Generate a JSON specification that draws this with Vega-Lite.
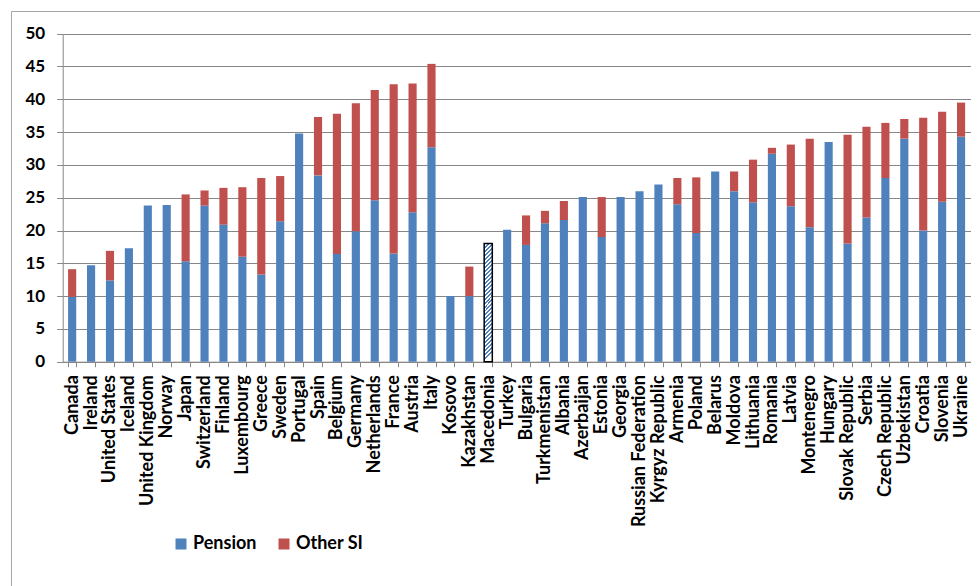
{
  "$schema": "https://vega.github.io/schema/vega-lite/v6.json",
  "width": 969,
  "height": 575,
  "autosize": "none",
  "padding": {"left": 11, "top": 11, "right": 0, "bottom": 0},
  "background": "white",
  "config": {
    "view": {"stroke": "#a6a6a6", "strokeWidth": 1},
    "font": "Lato"
  },
  "data": {
    "values": [
      {"country": "Canada", "series": "Pension", "value": 9.9},
      {"country": "Canada", "series": "Other SI", "value": 4.2},
      {"country": "Ireland", "series": "Pension", "value": 14.7},
      {"country": "United States", "series": "Pension", "value": 12.4},
      {"country": "United States", "series": "Other SI", "value": 4.5},
      {"country": "Iceland", "series": "Pension", "value": 17.3},
      {"country": "United Kingdom", "series": "Pension", "value": 23.8},
      {"country": "Norway", "series": "Pension", "value": 23.9},
      {"country": "Japan", "series": "Pension", "value": 15.3},
      {"country": "Japan", "series": "Other SI", "value": 10.2},
      {"country": "Switzerland", "series": "Pension", "value": 23.8},
      {"country": "Switzerland", "series": "Other SI", "value": 2.3},
      {"country": "Finland", "series": "Pension", "value": 20.9},
      {"country": "Finland", "series": "Other SI", "value": 5.6},
      {"country": "Luxembourg", "series": "Pension", "value": 16.0},
      {"country": "Luxembourg", "series": "Other SI", "value": 10.6},
      {"country": "Greece", "series": "Pension", "value": 13.3},
      {"country": "Greece", "series": "Other SI", "value": 14.7},
      {"country": "Sweden", "series": "Pension", "value": 21.4},
      {"country": "Sweden", "series": "Other SI", "value": 6.9},
      {"country": "Portugal", "series": "Pension", "value": 34.8},
      {"country": "Spain", "series": "Pension", "value": 28.4},
      {"country": "Spain", "series": "Other SI", "value": 8.9},
      {"country": "Belgium", "series": "Pension", "value": 16.4},
      {"country": "Belgium", "series": "Other SI", "value": 21.4},
      {"country": "Germany", "series": "Pension", "value": 19.9},
      {"country": "Germany", "series": "Other SI", "value": 19.5},
      {"country": "Netherlands", "series": "Pension", "value": 24.6},
      {"country": "Netherlands", "series": "Other SI", "value": 16.8},
      {"country": "France", "series": "Pension", "value": 16.5},
      {"country": "France", "series": "Other SI", "value": 25.8},
      {"country": "Austria", "series": "Pension", "value": 22.8},
      {"country": "Austria", "series": "Other SI", "value": 19.6},
      {"country": "Italy", "series": "Pension", "value": 32.7},
      {"country": "Italy", "series": "Other SI", "value": 12.7},
      {"country": "Kosovo", "series": "Pension", "value": 10.0},
      {"country": "Kazakhstan", "series": "Pension", "value": 10.0},
      {"country": "Kazakhstan", "series": "Other SI", "value": 4.5},
      {"country": "Macedonia", "series": "Pension", "value": 18.0},
      {"country": "Turkey", "series": "Pension", "value": 20.1},
      {"country": "Bulgaria", "series": "Pension", "value": 17.8},
      {"country": "Bulgaria", "series": "Other SI", "value": 4.5},
      {"country": "Turkmenistan", "series": "Pension", "value": 21.1},
      {"country": "Turkmenistan", "series": "Other SI", "value": 1.9},
      {"country": "Albania", "series": "Pension", "value": 21.6},
      {"country": "Albania", "series": "Other SI", "value": 2.9},
      {"country": "Azerbaijan", "series": "Pension", "value": 25.1},
      {"country": "Estonia", "series": "Pension", "value": 19.0},
      {"country": "Estonia", "series": "Other SI", "value": 6.1},
      {"country": "Georgia", "series": "Pension", "value": 25.1},
      {"country": "Russian Federation", "series": "Pension", "value": 26.0},
      {"country": "Kyrgyz Republic", "series": "Pension", "value": 27.0},
      {"country": "Armenia", "series": "Pension", "value": 24.0},
      {"country": "Armenia", "series": "Other SI", "value": 4.0},
      {"country": "Poland", "series": "Pension", "value": 19.6},
      {"country": "Poland", "series": "Other SI", "value": 8.5},
      {"country": "Belarus", "series": "Pension", "value": 29.0},
      {"country": "Moldova", "series": "Pension", "value": 26.0},
      {"country": "Moldova", "series": "Other SI", "value": 3.0},
      {"country": "Lithuania", "series": "Pension", "value": 24.3},
      {"country": "Lithuania", "series": "Other SI", "value": 6.5},
      {"country": "Romania", "series": "Pension", "value": 31.7},
      {"country": "Romania", "series": "Other SI", "value": 0.9},
      {"country": "Latvia", "series": "Pension", "value": 23.7},
      {"country": "Latvia", "series": "Other SI", "value": 9.4},
      {"country": "Montenegro", "series": "Pension", "value": 20.5},
      {"country": "Montenegro", "series": "Other SI", "value": 13.5},
      {"country": "Hungary", "series": "Pension", "value": 33.5},
      {"country": "Slovak Republic", "series": "Pension", "value": 18.0},
      {"country": "Slovak Republic", "series": "Other SI", "value": 16.6},
      {"country": "Serbia", "series": "Pension", "value": 22.0},
      {"country": "Serbia", "series": "Other SI", "value": 13.8},
      {"country": "Czech Republic", "series": "Pension", "value": 28.0},
      {"country": "Czech Republic", "series": "Other SI", "value": 8.4},
      {"country": "Uzbekistan", "series": "Pension", "value": 34.0},
      {"country": "Uzbekistan", "series": "Other SI", "value": 3.0},
      {"country": "Croatia", "series": "Pension", "value": 20.0},
      {"country": "Croatia", "series": "Other SI", "value": 17.2},
      {"country": "Slovenia", "series": "Pension", "value": 24.4},
      {"country": "Slovenia", "series": "Other SI", "value": 13.7},
      {"country": "Ukraine", "series": "Pension", "value": 34.3},
      {"country": "Ukraine", "series": "Other SI", "value": 5.2}
    ]
  },
  "encoding": {
    "x": {
      "field": "country",
      "type": "nominal",
      "sort": null,
      "scale": {"range": [51.7, 959.5], "paddingInner": 0.57, "paddingOuter": 0.285},
      "axis": {
        "title": null,
        "labelAngle": 270,
        "labelAlign": "right",
        "labelBaseline": "middle",
        "offset": -224.3,
        "tickBand": "extent",
        "tickSize": 5,
        "tickColor": "#878787",
        "domainColor": "#878787",
        "labelPadding": 8,
        "labelFont": "Lato",
        "labelFontWeight": "bold",
        "labelFontSize": 18,
        "labelColor": "black",
        "labelOverlap": false,
        "labelLimit": 300
      }
    },
    "y": {
      "field": "value",
      "type": "quantitative",
      "stack": "zero",
      "scale": {"domain": [0, 50], "range": [350.7, 22.7], "nice": false},
      "axis": {
        "title": null,
        "offset": -51.7,
        "values": [0, 5, 10, 15, 20, 25, 30, 35, 40, 45, 50],
        "grid": true,
        "gridColor": "#878787",
        "gridWidth": 1,
        "domainColor": "#878787",
        "tickColor": "#878787",
        "tickSize": 6,
        "labelPadding": 12,
        "labelFont": "Lato",
        "labelFontWeight": "bold",
        "labelFontSize": 17,
        "labelColor": "black",
        "labelOverlap": false,
        "labelFlush": false
      }
    }
  },
  "layer": [
    {
      "mark": {"type": "bar"},
      "encoding": {
        "color": {
          "field": "series",
          "type": "nominal",
          "scale": {"domain": ["Pension", "Other SI"], "range": ["#4f81bd", "#c0504d"]},
          "legend": {
            "orient": "none",
            "legendX": 161,
            "legendY": 524,
            "direction": "horizontal",
            "title": null,
            "symbolType": "square",
            "symbolSize": 121,
            "symbolStrokeWidth": 0,
            "symbolOpacity": 1,
            "labelFont": "Lato",
            "labelFontSize": 18,
            "labelFontWeight": "bold",
            "labelColor": "black",
            "labelOffset": 3,
            "columnPadding": 18
          }
        },
        "order": {"field": "series", "sort": "descending"}
      }
    },
    {
      "transform": [{"filter": "datum.country === 'Macedonia'"}],
      "mark": {
        "type": "bar",
        "stroke": "black",
        "strokeWidth": 1.5,
        "fill": {
          "gradient": "linear",
          "x1": 0, "y1": 0, "x2": 0.07, "y2": 1,
          "stops": [
            {"offset": 0, "color": "#4f81bd"}, {"offset": 0.0167, "color": "#4f81bd"},
            {"offset": 0.0167, "color": "#ffffff"}, {"offset": 0.0333, "color": "#ffffff"},
            {"offset": 0.0333, "color": "#4f81bd"}, {"offset": 0.05, "color": "#4f81bd"},
            {"offset": 0.05, "color": "#ffffff"}, {"offset": 0.0667, "color": "#ffffff"},
            {"offset": 0.0667, "color": "#4f81bd"}, {"offset": 0.0833, "color": "#4f81bd"},
            {"offset": 0.0833, "color": "#ffffff"}, {"offset": 0.1, "color": "#ffffff"},
            {"offset": 0.1, "color": "#4f81bd"}, {"offset": 0.1167, "color": "#4f81bd"},
            {"offset": 0.1167, "color": "#ffffff"}, {"offset": 0.1333, "color": "#ffffff"},
            {"offset": 0.1333, "color": "#4f81bd"}, {"offset": 0.15, "color": "#4f81bd"},
            {"offset": 0.15, "color": "#ffffff"}, {"offset": 0.1667, "color": "#ffffff"},
            {"offset": 0.1667, "color": "#4f81bd"}, {"offset": 0.1833, "color": "#4f81bd"},
            {"offset": 0.1833, "color": "#ffffff"}, {"offset": 0.2, "color": "#ffffff"},
            {"offset": 0.2, "color": "#4f81bd"}, {"offset": 0.2167, "color": "#4f81bd"},
            {"offset": 0.2167, "color": "#ffffff"}, {"offset": 0.2333, "color": "#ffffff"},
            {"offset": 0.2333, "color": "#4f81bd"}, {"offset": 0.25, "color": "#4f81bd"},
            {"offset": 0.25, "color": "#ffffff"}, {"offset": 0.2667, "color": "#ffffff"},
            {"offset": 0.2667, "color": "#4f81bd"}, {"offset": 0.2833, "color": "#4f81bd"},
            {"offset": 0.2833, "color": "#ffffff"}, {"offset": 0.3, "color": "#ffffff"},
            {"offset": 0.3, "color": "#4f81bd"}, {"offset": 0.3167, "color": "#4f81bd"},
            {"offset": 0.3167, "color": "#ffffff"}, {"offset": 0.3333, "color": "#ffffff"},
            {"offset": 0.3333, "color": "#4f81bd"}, {"offset": 0.35, "color": "#4f81bd"},
            {"offset": 0.35, "color": "#ffffff"}, {"offset": 0.3667, "color": "#ffffff"},
            {"offset": 0.3667, "color": "#4f81bd"}, {"offset": 0.3833, "color": "#4f81bd"},
            {"offset": 0.3833, "color": "#ffffff"}, {"offset": 0.4, "color": "#ffffff"},
            {"offset": 0.4, "color": "#4f81bd"}, {"offset": 0.4167, "color": "#4f81bd"},
            {"offset": 0.4167, "color": "#ffffff"}, {"offset": 0.4333, "color": "#ffffff"},
            {"offset": 0.4333, "color": "#4f81bd"}, {"offset": 0.45, "color": "#4f81bd"},
            {"offset": 0.45, "color": "#ffffff"}, {"offset": 0.4667, "color": "#ffffff"},
            {"offset": 0.4667, "color": "#4f81bd"}, {"offset": 0.4833, "color": "#4f81bd"},
            {"offset": 0.4833, "color": "#ffffff"}, {"offset": 0.5, "color": "#ffffff"},
            {"offset": 0.5, "color": "#4f81bd"}, {"offset": 0.5167, "color": "#4f81bd"},
            {"offset": 0.5167, "color": "#ffffff"}, {"offset": 0.5333, "color": "#ffffff"},
            {"offset": 0.5333, "color": "#4f81bd"}, {"offset": 0.55, "color": "#4f81bd"},
            {"offset": 0.55, "color": "#ffffff"}, {"offset": 0.5667, "color": "#ffffff"},
            {"offset": 0.5667, "color": "#4f81bd"}, {"offset": 0.5833, "color": "#4f81bd"},
            {"offset": 0.5833, "color": "#ffffff"}, {"offset": 0.6, "color": "#ffffff"},
            {"offset": 0.6, "color": "#4f81bd"}, {"offset": 0.6167, "color": "#4f81bd"},
            {"offset": 0.6167, "color": "#ffffff"}, {"offset": 0.6333, "color": "#ffffff"},
            {"offset": 0.6333, "color": "#4f81bd"}, {"offset": 0.65, "color": "#4f81bd"},
            {"offset": 0.65, "color": "#ffffff"}, {"offset": 0.6667, "color": "#ffffff"},
            {"offset": 0.6667, "color": "#4f81bd"}, {"offset": 0.6833, "color": "#4f81bd"},
            {"offset": 0.6833, "color": "#ffffff"}, {"offset": 0.7, "color": "#ffffff"},
            {"offset": 0.7, "color": "#4f81bd"}, {"offset": 0.7167, "color": "#4f81bd"},
            {"offset": 0.7167, "color": "#ffffff"}, {"offset": 0.7333, "color": "#ffffff"},
            {"offset": 0.7333, "color": "#4f81bd"}, {"offset": 0.75, "color": "#4f81bd"},
            {"offset": 0.75, "color": "#ffffff"}, {"offset": 0.7667, "color": "#ffffff"},
            {"offset": 0.7667, "color": "#4f81bd"}, {"offset": 0.7833, "color": "#4f81bd"},
            {"offset": 0.7833, "color": "#ffffff"}, {"offset": 0.8, "color": "#ffffff"},
            {"offset": 0.8, "color": "#4f81bd"}, {"offset": 0.8167, "color": "#4f81bd"},
            {"offset": 0.8167, "color": "#ffffff"}, {"offset": 0.8333, "color": "#ffffff"},
            {"offset": 0.8333, "color": "#4f81bd"}, {"offset": 0.85, "color": "#4f81bd"},
            {"offset": 0.85, "color": "#ffffff"}, {"offset": 0.8667, "color": "#ffffff"},
            {"offset": 0.8667, "color": "#4f81bd"}, {"offset": 0.8833, "color": "#4f81bd"},
            {"offset": 0.8833, "color": "#ffffff"}, {"offset": 0.9, "color": "#ffffff"},
            {"offset": 0.9, "color": "#4f81bd"}, {"offset": 0.9167, "color": "#4f81bd"},
            {"offset": 0.9167, "color": "#ffffff"}, {"offset": 0.9333, "color": "#ffffff"},
            {"offset": 0.9333, "color": "#4f81bd"}, {"offset": 0.95, "color": "#4f81bd"},
            {"offset": 0.95, "color": "#ffffff"}, {"offset": 0.9667, "color": "#ffffff"},
            {"offset": 0.9667, "color": "#4f81bd"}, {"offset": 0.9833, "color": "#4f81bd"},
            {"offset": 0.9833, "color": "#ffffff"}, {"offset": 1, "color": "#ffffff"}
          ]
        }
      }
    }
  ]
}
